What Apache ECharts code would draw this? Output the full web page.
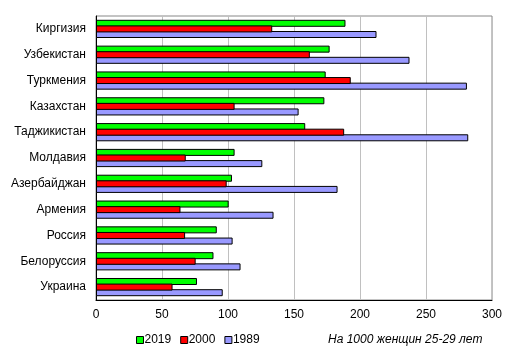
<!DOCTYPE html>
<html><head><meta charset="utf-8">
<script src="https://cdn.jsdelivr.net/npm/echarts@6/dist/echarts.min.js"></script>
<style>html,body{margin:0;padding:0;background:#fff}#c{width:518px;height:357px}</style>
</head><body><div id="c"></div>
<script>
const categories = ['Киргизия','Узбекистан','Туркмения','Казахстан','Таджикистан','Молдавия','Азербайджан','Армения','Россия','Белоруссия','Украина'];
const values2019 = [189, 177, 174, 173, 158.5, 105, 103, 100.5, 91.5, 89, 76.5];
const values2000 = [133.5, 162, 193, 105, 188, 68, 99, 64, 67.5, 75.5, 58];
const values1989 = [212.5, 237.5, 281, 153.5, 282, 126, 183, 134.5, 103.5, 109.5, 96];
const xTicks = [0, 50, 100, 150, 200, 250, 300];
const seriesNames = ['2019', '2000', '1989'];
const note = 'На 1000 женщин 25-29 лет';

const font = 'Liberation Sans, Arial, sans-serif';
const chart = echarts.init(document.getElementById('c'), null, {renderer: 'canvas'});
const colors = ['#00ff00', '#ff0000', '#9999ff'];
const mk = (name, data, i, z) => ({
  name, type: 'bar', data, barWidth: 7, barGap: '-20%', z,
  itemStyle: {color: colors[i], borderColor: '#000', borderWidth: 1},
  emphasis: {disabled: true}
});
chart.setOption({
  animation: false,
  textStyle: {fontFamily: font},
  grid: {left: 96, right: 26, top: 16, bottom: 57, show: true, borderColor: '#888', borderWidth: 1},
  legend: {
    data: seriesNames, left: 131, top: 329, itemWidth: 7, itemHeight: 7, itemGap: 9,
    icon: 'rect', textStyle: {fontSize: 12, color: '#000', fontFamily: font, padding: [0, 0, 0, -4]},
    itemStyle: {borderColor: '#000', borderWidth: 1}
  },
  title: {
    text: note, left: 323, top: 329,
    textStyle: {fontSize: 12, fontStyle: 'italic', fontWeight: 'normal', color: '#000', fontFamily: font}
  },
  xAxis: {
    type: 'value', min: xTicks[0], max: xTicks[xTicks.length - 1], interval: 50,
    axisLine: {show: true, lineStyle: {color: '#000', width: 1}},
    axisTick: {show: false},
    axisLabel: {fontSize: 12, color: '#000', margin: 9, fontFamily: font},
    splitLine: {show: true, lineStyle: {color: '#c0c0c0', width: 1}}
  },
  yAxis: {
    type: 'category', data: categories, inverse: true,
    axisLine: {show: true, lineStyle: {color: '#000', width: 1}},
    axisTick: {show: false},
    axisLabel: {fontSize: 12, color: '#000', margin: 10, fontFamily: font}
  },
  series: [
    mk(seriesNames[0], values2019, 0, 2),
    mk(seriesNames[1], values2000, 1, 4),
    mk(seriesNames[2], values1989, 2, 3)
  ]
});
</script></body></html>
